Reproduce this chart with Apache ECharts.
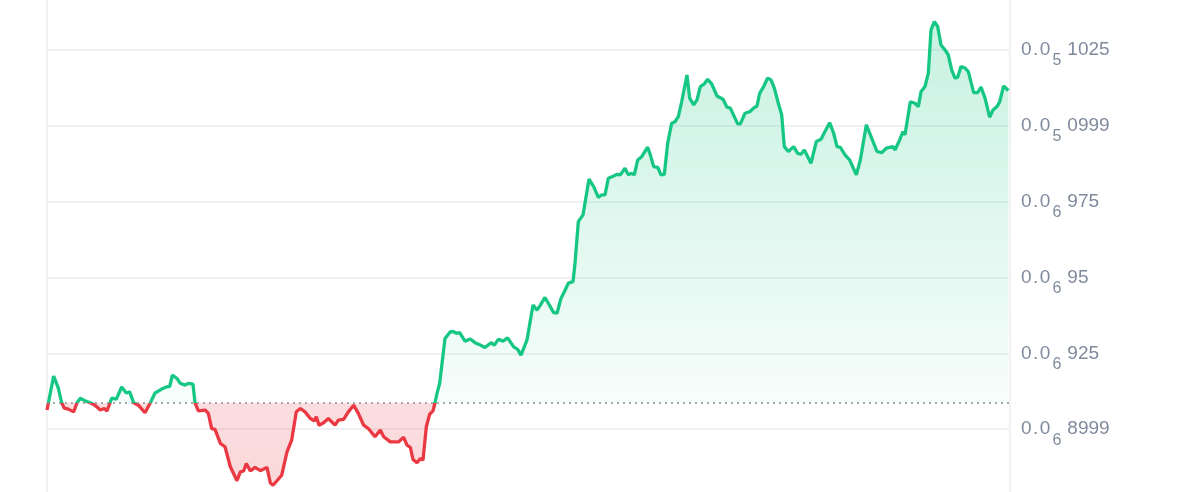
<!DOCTYPE html>
<html>
<head>
<meta charset="utf-8">
<script src="https://cdn.jsdelivr.net/npm/echarts@6/dist/echarts.min.js"></script>
<style>
  html, body { margin: 0; padding: 0; background: #ffffff; overflow: hidden; width: 1200px; height: 492px; position: relative; }
  #chart { position: absolute; left: 0; top: -26px; width: 1200px; height: 531px; }
</style>
</head>
<body>
<div id="chart"></div>
<script>
// time in minutes since start of window (24h)
const times = [0,10,17,22,26,32,40,45,50,57,65,72,80,86,90,97,104,112,119,124,130,137,147,155,162,172,180,184,188,195,200,207,212,219,222,227,237,242,247,252,260,267,275,285,290,295,299,305,312,320,330,335,339,345,352,360,367,374,380,387,395,401,404,408,415,422,432,437,445,452,460,467,475,482,492,500,505,515,527,535,540,545,549,555,560,564,569,574,579,582,585,589,597,605,610,614,619,627,635,642,650,657,666,671,677,684,691,700,706,711,720,729,735,740,747,752,760,765,771,776,782,789,792,797,804,813,820,827,832,837,842,850,855,860,867,872,877,881,886,892,901,905,910,916,921,926,931,937,942,947,952,960,964,970,975,980,986,991,997,1005,1014,1020,1025,1036,1040,1047,1054,1060,1065,1069,1075,1081,1086,1091,1097,1102,1106,1112,1120,1126,1131,1136,1146,1154,1161,1167,1174,1180,1185,1190,1197,1204,1214,1220,1229,1237,1245,1252,1259,1262,1269,1272,1279,1284,1287,1295,1302,1307,1311,1317,1322,1326,1331,1336,1341,1347,1352,1357,1362,1366,1371,1377,1382,1390,1396,1401,1407,1414,1419,1425,1429,1435,1442];
// price in units of 1e-9
const prices = [906.3,917.5,913.5,908.7,906.9,906.6,905.7,908.7,910.2,909.3,908.7,907.9,906.3,906.8,906.0,910.2,909.9,913.9,911.9,912.3,908.7,907.9,905.4,908.7,911.9,913.2,914.0,914.0,917.8,916.7,915.1,914.5,915.1,914.8,908.7,906.0,906.3,905.2,900.2,899.9,895.3,894.2,887.6,883.0,885.9,886.2,888.7,886.2,887.4,886.3,887.4,882.3,881.5,883.0,884.8,892.5,896.4,905.7,906.8,905.7,903.5,902.7,904.1,901.3,902.1,903.5,901.3,903.0,903.2,905.7,907.9,905.2,901.3,900.2,897.5,899.7,897.5,895.8,895.8,897.3,894.7,894.0,890.0,888.9,890.3,889.8,900.8,904.9,906.0,908.7,911.8,915.1,929.9,932.1,932.1,931.6,931.8,929.0,929.7,928.5,927.7,926.9,928.5,927.7,929.6,929.0,930.1,927.1,926.3,924.4,929.4,940.9,939.2,940.9,943.4,941.5,938.4,938.2,943.1,945.3,948.1,948.6,954.6,968.4,970.6,982.4,979.9,976.4,977.2,977.2,982.7,983.4,984.0,983.8,986.0,983.8,984.3,983.8,988.7,989.8,992.9,990.4,986.5,986.3,983.8,984.0,994.2,1000.8,1001.3,1003.0,1007.9,1016.7,1009.1,1006.9,1008.5,1012.9,1013.8,1015.3,1013.8,1009.8,1008.7,1006.1,1005.8,1000.6,1000.6,1004.1,1004.6,1005.8,1006.5,1010.7,1012.9,1015.7,1015.1,1012.4,1007.4,1003.6,993.1,991.5,993.1,990.9,990.6,992.0,987.6,994.8,995.5,998.1,1001.0,997.5,993.1,992.9,990.4,988.7,983.8,988.7,1000.3,995.9,991.5,991.1,992.6,992.0,993.1,992.0,995.3,998.1,997.0,1007.9,1007.4,1006.3,1011.2,1012.9,1017.3,1031.6,1034.3,1032.7,1026.6,1025.0,1023.3,1018.4,1015.7,1016.0,1019.5,1019.0,1017.8,1010.9,1010.9,1012.7,1009.1,1002.8,1005.2,1006.3,1007.9,1013.1,1011.6];
const baseline = 908.6;
// y-axis tick labels (value in 1e-9 units -> zero count + significant digits)
const tickValues = [900, 925, 950, 975, 1000, 1025];
const tickZeros = ['6', '6', '6', '6', '5', '5'];
const tickDigits = ['8999', '925', '95', '975', '0999', '1025'];

const GREEN = '#16c784';
const RED = '#ea3943';
const LABEL = '#808a9d';
const FONT = 'Liberation Sans, Arial, sans-serif';

const data = times.map((t, i) => [t, prices[i]]);
const maxP = Math.max(...prices, baseline);
const minP = Math.min(...prices, baseline);
const split = (maxP - baseline) / (maxP - minP);

const chart = echarts.init(document.getElementById('chart'), null, { renderer: 'canvas' });
chart.setOption({
  animation: false,
  backgroundColor: '#ffffff',
  grid: {
    left: 47, right: 190, top: 0, bottom: 0,
    show: true, borderColor: '#eff1f4', borderWidth: 2, backgroundColor: 'transparent'
  },
  xAxis: {
    type: 'value', min: 0, max: 1444.5,
    axisLine: { show: false }, axisTick: { show: false },
    axisLabel: { show: false }, splitLine: { show: false }
  },
  yAxis: {
    type: 'value', position: 'right', min: 875, max: 1050, interval: 25,
    axisLine: { show: false }, axisTick: { show: false },
    splitLine: { show: true, lineStyle: { color: '#eff1f4', width: 2 } },
    axisLabel: {
      margin: 11,
      color: LABEL,
      fontSize: 19,
      fontFamily: FONT,
      formatter: function (v) {
        const i = tickValues.indexOf(Math.round(v));
        if (i < 0 || Math.abs(v - tickValues[i]) > 1e-6) return '';
        return '{m|0}{d|.}{m|0}{s|' + tickZeros[i] + '}{m|' + tickDigits[i] + '}';
      },
      rich: {
        m: { fontSize: 19, color: LABEL, fontFamily: FONT },
        d: { fontSize: 19, color: LABEL, fontFamily: FONT, padding: [0, 1.5, 0, 1.5] },
        s: { fontSize: 16, color: LABEL, fontFamily: FONT, padding: [22, 6, 0, 2] }
      }
    }
  },
  visualMap: {
    show: false, type: 'piecewise', dimension: 1, seriesIndex: 0,
    pieces: [
      { gt: baseline, lte: 5000, color: GREEN },
      { gt: 0, lte: baseline, color: RED }
    ]
  },
  series: [{
    type: 'line',
    data: data,
    showSymbol: false,
    smooth: false,
    lineStyle: { width: 3.3 },
    areaStyle: {
      origin: baseline,
      color: new echarts.graphic.LinearGradient(0, 0, 0, 1, [
        { offset: 0, color: 'rgba(22,199,132,0.34)' },
        { offset: split, color: 'rgba(22,199,132,0.05)' },
        { offset: split, color: 'rgba(234,57,67,0.24)' },
        { offset: 1, color: 'rgba(234,57,67,0.28)' }
      ])
    },
    markLine: {
      silent: true,
      symbol: ['none', 'none'],
      label: { show: false },
      lineStyle: { color: '#8f8f8f', type: [2, 4], width: 1.6 },
      data: [{ yAxis: baseline }]
    },
    z: 3
  }]
});
</script>
</body>
</html>
